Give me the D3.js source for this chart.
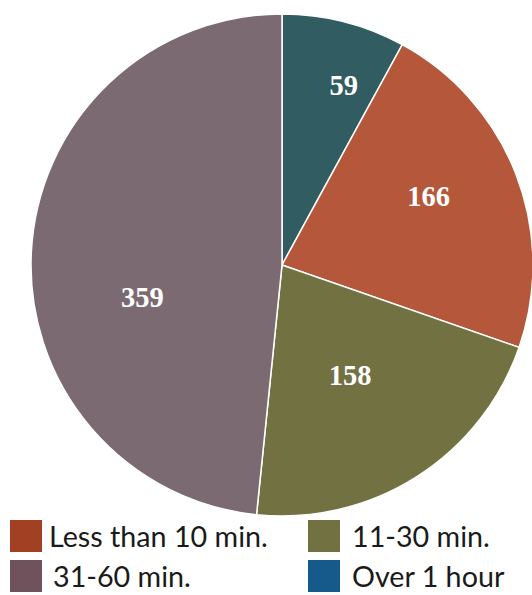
<!DOCTYPE html>
<html><head><meta charset="utf-8">
<script src="https://cdn.jsdelivr.net/npm/d3@7"></script>
<style>html,body{margin:0;padding:0;background:#fff;}</style>
</head><body>
<svg id="chart" width="532" height="595"></svg>
<script>
// Slices in clockwise order from 12 o'clock
const sliceValues = [59, 166, 158, 359];
const sliceColors = ["#305c62", "#b5573a", "#717142", "#7c6a72"];
// label placement inside each slice: radius fraction and position along the slice's angle span
const labelRadiusFactor = [0.76, 0.645, 0.515, 0.57];
const labelAngleFraction = [0.66, 0.45, 0.51, 0.41];

// Legend
const legendLabels = ["Less than 10 min.", "11-30 min.", "31-60 min.", "Over 1 hour"];
const legendColors = ["#a24024", "#717142", "#6f525c", "#155a8a"];

const svg = d3.select("#chart");
const cx = 282, cy = 265, R = 251;

const pie = d3.pie().sort(null).value(d => d);
const arcs = pie(sliceValues);
const arc = d3.arc().innerRadius(0).outerRadius(R);

const g = svg.append("g").attr("transform", `translate(${cx},${cy})`);
g.selectAll("path").data(arcs).join("path")
  .attr("d", arc)
  .attr("fill", (d, i) => sliceColors[i])
  .attr("stroke", "#fff")
  .attr("stroke-width", 1.5);

g.selectAll("text").data(arcs).join("text")
  .attr("transform", (d, i) => {
    const r = R * labelRadiusFactor[i];
    const a = d.startAngle + (d.endAngle - d.startAngle) * labelAngleFraction[i];
    return `translate(${r * Math.sin(a)},${-r * Math.cos(a)})`;
  })
  .attr("text-anchor", "middle")
  .attr("dy", "0.35em")
  .attr("fill", "#fff")
  .attr("font-family", "'Liberation Serif', serif")
  .attr("font-weight", "bold")
  .attr("font-size", 28.5)
  .text(d => d.data);

const leg = svg.append("g");
const colX = [10, 308], rowY = [520, 560];
const items = leg.selectAll("g").data(legendLabels).join("g")
  .attr("transform", (d, i) => `translate(${colX[i % 2]},${rowY[Math.floor(i / 2)]})`);
items.append("rect").attr("width", 32).attr("height", 32)
  .attr("fill", (d, i) => legendColors[i]);
items.append("text")
  .attr("x", (d, i) => i === 2 ? 43 : (i % 2 ? 44 : 39))
  .attr("y", 27)
  .attr("fill", "#1a1a1a")
  .attr("font-family", "Lato, sans-serif")
  .attr("font-size", 28.7)
  .text(d => d);
</script>
</body></html>
